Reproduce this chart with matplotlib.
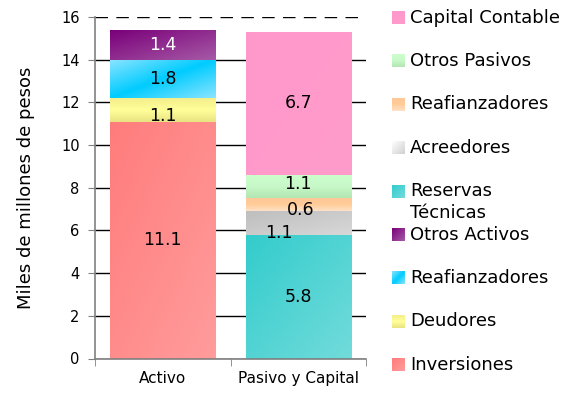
import numpy as np
import matplotlib
matplotlib.use("Agg")
import matplotlib.pyplot as plt
from matplotlib.colors import LinearSegmentedColormap
from matplotlib.patches import Rectangle

# balance values, miles de millones de pesos
categories = ["Activo", "Pasivo y Capital"]
activo_labels = ["Inversiones", "Deudores", "Reafianzadores", "Otros Activos"]
activo_values = [11.1, 1.1, 1.8, 1.4]
pasivo_labels = ["Reservas\nTécnicas", "Acreedores", "Reafianzadores",
                 "Otros Pasivos", "Capital Contable"]
pasivo_values = [5.8, 1.1, 0.6, 1.1, 6.7]
y_ticks = [0, 2, 4, 6, 8, 10, 12, 14, 16]

# gradient stops and direction for each segment (bottom to top)
activo_fills = [
    (["#FF7C7C", "#FF9C9C"], "diag"),
    (["#F4EE8C", "#FFFF99", "#E9E382"], "vert"),
    (["#8AE4FF", "#00CCFF", "#8AE4FF"], "diag"),
    (["#7A007A", "#A65AA6"], "diag"),
]
pasivo_fills = [
    (["#33CCCC", "#72DBDB"], "diag"),
    (["#BEBEBE", "#D8D8D8"], "diag"),
    (["#FFC896", "#FFCC99", "#FFE2C6"], "vert"),
    (["#CCFFCC", "#C8F8C8", "#B2E6B2"], "vert"),
    (["#FF98CB", "#FF9CCC"], "diag"),
]
activo_text = ["black", "black", "black", "white"]
pasivo_text = ["black", "black", "black", "black", "black"]
# label nudges in points (dx, dy)
activo_nudge = [(0, 0), (0, -4.3), (0, 0), (0, 0)]
pasivo_nudge = [(0, 0), (-14, -7), (2, -3.6), (0, 2), (0, 0)]

W, H = 574, 394
fig = plt.figure(figsize=(W / 100, H / 100), dpi=100)
ax = fig.add_axes([95 / W, (H - 358.5) / H, 271 / W, 341.5 / H])


def gradient(axis, x0, y0, w, h, stops, kind, zorder, clip=None):
    u, v = np.meshgrid(np.linspace(0, 1, 80), np.linspace(0, 1, 80))
    t = (u + v) / 2 if kind == "diag" else v
    cmap = LinearSegmentedColormap.from_list("g", stops)
    im = axis.imshow(t, cmap=cmap, vmin=0, vmax=1, origin="upper",
                     extent=[x0, x0 + w, y0, y0 + h], aspect="auto",
                     interpolation="bilinear", zorder=zorder)
    if clip is not None:
        im.set_clip_path(clip)
    return im


bar_w = 0.775
stacks = [(activo_values, activo_fills, activo_text, activo_nudge),
          (pasivo_values, pasivo_fills, pasivo_text, pasivo_nudge)]
for xi, (vals, fills, tcols, nudges) in enumerate(stacks):
    bottom = 0.0
    for val, (stops, kind), tc, (dx, dy) in zip(vals, fills, tcols, nudges):
        rect = ax.bar(xi, val, bottom=bottom, width=bar_w, color=stops[0],
                      linewidth=0, zorder=2)[0]
        gradient(ax, rect.get_x(), bottom, bar_w, val, stops, kind, 2.5, rect)
        ax.annotate(f"{val:.1f}", (xi, bottom + val / 2), xytext=(dx, dy),
                    textcoords="offset points", ha="center", va="center",
                    fontsize=12.5, color=tc, zorder=4)
        bottom += val

ax.set_xlim(-0.5, 1.5)
ax.set_ylim(0, 16)
ax.set_yticks(y_ticks)
ax.set_xticks(range(len(categories)))
ax.set_xticklabels(categories, fontsize=11)
ax.set_xticks([-0.5, 0.5, 1.5], minor=True)
ax.tick_params(axis="x", which="major", length=0, pad=9)
ax.tick_params(axis="x", which="minor", length=5, color="#808080", direction="out")
ax.tick_params(axis="y", length=5, color="#808080", direction="out", pad=6,
               labelsize=10.5)

ax.set_axisbelow(True)
ax.yaxis.grid(True, color="black", linewidth=1)
ax.yaxis.get_gridlines()[-1].set_dashes((9, 6))
for side in ("top", "right"):
    ax.spines[side].set_visible(False)
for side in ("left", "bottom"):
    ax.spines[side].set_color("#808080")
    ax.spines[side].set_linewidth(1.2)
    ax.spines[side].set_zorder(3)

ax.set_ylabel("Miles de millones de pesos", fontsize=13)
ax.yaxis.set_label_coords((35 - 95) / 271, 0.5)

# legend, drawn in pixel space on top of the figure
lax = fig.add_axes([0, 0, 1, 1])
lax.axis("off")
legend_labels = (activo_labels + pasivo_labels)[::-1]
legend_fills = (activo_fills + pasivo_fills)[::-1]
legend_fills[3] = (["#FFFFFF", "#D0D0D0"], "diag")  # Acreedores swatch
for i, (lab, (stops, kind)) in enumerate(zip(legend_labels, legend_fills)):
    yc = 17.5 + 43.4 * i
    sq = Rectangle((392, yc - 6.5), 13, 13, facecolor=stops[0], linewidth=0)
    lax.add_patch(sq)
    gradient(lax, 392, yc + 6.5, 13, -13, stops, kind, 3, sq)
    if "\n" in lab:
        lax.text(410, yc - 9, lab, fontsize=13, ha="left", va="top",
                 linespacing=1.3)
    else:
        lax.text(410, yc, lab, fontsize=13, ha="left", va="center")
lax.set_xlim(0, W)
lax.set_ylim(H, 0)

fig.savefig("out.png", dpi=100)
